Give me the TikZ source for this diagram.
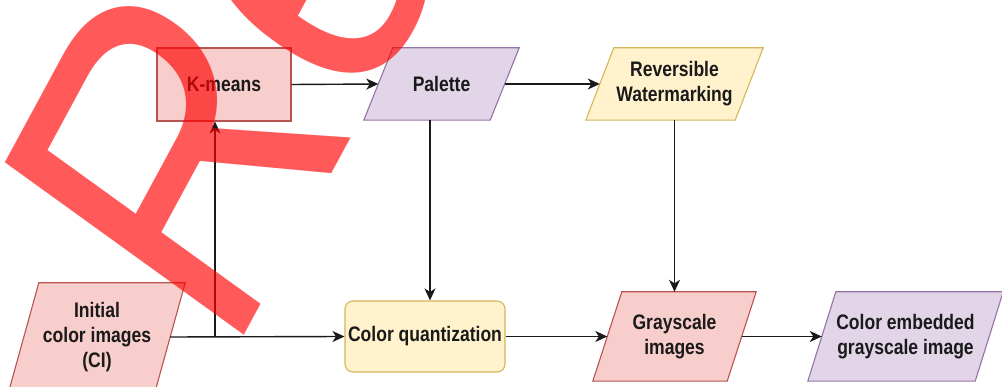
\documentclass[tikz,border=0pt]{standalone}
\usepackage{fontspec}
\setmainfont[FakeStretch=0.835]{Liberation Sans}
\newfontfamily\wmfont{Liberation Sans}
\usetikzlibrary{arrows.meta,calc,backgrounds}

\definecolor{redfill}{HTML}{F8CECC}
\definecolor{redline}{HTML}{B85450}
\definecolor{purfill}{HTML}{E1D5E7}
\definecolor{purline}{HTML}{9673A6}
\definecolor{yelfill}{HTML}{FFF2CC}
\definecolor{yelline}{HTML}{D6B656}
\definecolor{ink}{HTML}{1A1A1A}
\definecolor{wmred}{HTML}{FF0000}

\tikzset{
  box/.style={inner sep=0pt, align=center, text=ink,
    font=\fontsize{21}{25}\selectfont\bfseries},
  redshape/.style={fill=redfill, draw=redline, line width=1.1pt},
  purshape/.style={fill=purfill, draw=purline, line width=1.1pt},
  yelshape/.style={fill=yelfill, draw=yelline, line width=1.1pt},
  link/.style={draw=ink, line width=1.4pt,
    -{Stealth[length=12pt,width=11pt,inset=3.5pt]}},
}

% outline of a right-leaning parallelogram around a text node,
% plus the mid points of its slanted sides
\newcommand\slanted[3]{%
  \begin{scope}[on background layer]
    \path[#3] (#1.south west) -- ($(#1.south east)+(-#2,0)$)
      -- (#1.north east) -- ($(#1.north west)+(#2,0)$) -- cycle;
  \end{scope}
  \coordinate (#1-l) at ($(#1.west)+(#2/2,0)$);
  \coordinate (#1-r) at ($(#1.east)-(#2/2,0)$);
}

\begin{document}
\begin{tikzpicture}[x=1pt,y=-1pt]
  \useasboundingbox (0,0) rectangle (1002,387);

  % process and data nodes
  \node[box, redshape, minimum width=134pt, minimum height=73pt] (km) at (224,84.5) {K-means};
  \node[box, minimum width=155pt, minimum height=72pt] (pal) at (441.5,84) {Palette};
  \slanted{pal}{29}{purshape}
  \node[box, minimum width=177pt, minimum height=72pt] (rw) at (674.5,84) {Reversible\\Watermarking};
  \slanted{rw}{28}{yelshape}
  \node[box, minimum width=176pt, minimum height=108pt] (init) at (97,337) {Initial\\color images\\(CI)};
  \slanted{init}{30}{redshape}
  \node[box, yelshape, rounded corners=8pt, minimum width=160pt, minimum height=71pt] (cq) at (425,336.5) {Color quantization};
  \node[box, minimum width=163pt, minimum height=89pt] (gs) at (674.5,336.5) {Grayscale\\images};
  \slanted{gs}{29}{redshape}
  \node[box, minimum width=195pt, minimum height=89pt] (ce) at (905.5,336.5) {Color embedded\\grayscale image};
  \slanted{ce}{28}{purshape}

  % routing columns
  \coordinate (kmx) at (215,0);
  \coordinate (pqx) at (430,0);
  \coordinate (split) at (kmx |- init-r);

  % connectors
  \draw[link] (km.east) -- (pal-l);
  \draw[link] (pal-r) -- (rw-l);
  \draw[link] (pal.south -| pqx) -- (cq.north -| pqx);
  \draw[link] (rw.south) -- (gs.north);
  \draw[link] (init-r) -- (cq.west);
  \draw[link] (split) -- (split |- km.south);
  \draw[link] (cq.east) -- (gs-l);
  \draw[link] (gs-r) -- (ce-l);

  % overlaid lettering, set along a tilted and slightly sheared baseline
  \begin{scope}[x=1pt, y=1pt, cm={0.4735,0.8744,-0.9142,0.6597,(229,-363)}]
    \node[transform shape, inner sep=0pt, anchor=base west, text=wmred, opacity=0.65,
          font=\wmfont\fontsize{380}{380}\selectfont] (wm) at (0,0) {Re};
  \end{scope}
\end{tikzpicture}
\end{document}
